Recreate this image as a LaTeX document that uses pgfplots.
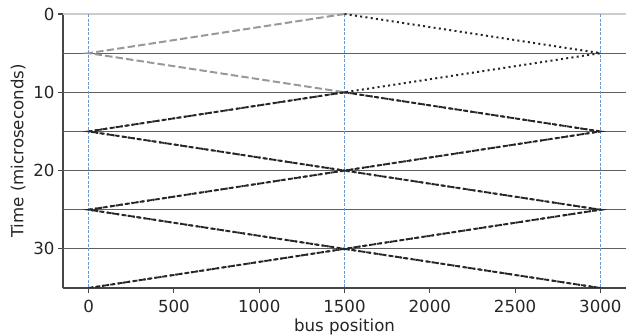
\documentclass[border=0pt]{standalone}
\usepackage{fontspec}
\setmainfont{DejaVu Sans}
\usepackage{pgfplots}
\pgfplotsset{compat=1.18}
\definecolor{vblue}{RGB}{110,155,205}
\definecolor{hgray}{RGB}{95,95,95}
\definecolor{spine}{RGB}{70,70,70}
\begin{document}
\begin{tikzpicture}
\begin{axis}[
  scale only axis, width=563bp, height=274bp,
  xmin=-150, xmax=3150, ymin=0, ymax=35, y dir=reverse,
  axis x line*=bottom, axis y line*=left,
  axis line style={draw=spine, line width=1.2bp},
  xtick={0,500,1000,1500,2000,2500,3000}, ytick={0,10,20,30},
  tick style={draw=spine, line width=1.2bp},
  tick align=outside, major tick length=4.9bp,
  ticklabel style={font=\fontsize{16.7}{19}\selectfont, text=black!85},
  label style={font=\fontsize{16.7}{19}\selectfont, text=black!85},
  xticklabel style={yshift=-4bp},
  /pgf/number format/assume math mode=true,
  /pgf/number format/1000 sep={},
  scaled ticks=false,
  xlabel={bus position}, ylabel={Time (microseconds)},
  xlabel style={yshift=1bp}, ylabel style={yshift=1bp},
]
\coordinate (TL) at (axis cs:-150,0);
% horizontal reference lines
\addplot[draw=black!20, line width=1.2bp, forget plot] coordinates {(-150,0) (3150,0)};
\addplot[draw=hgray, line width=1.2bp, forget plot] coordinates {(-150,5) (3150,5)};
\addplot[draw=hgray, line width=1.2bp, forget plot] coordinates {(-150,10) (3150,10)};
\addplot[draw=hgray, line width=1.2bp, forget plot] coordinates {(-150,15) (3150,15)};
\addplot[draw=hgray, line width=1.2bp, forget plot] coordinates {(-150,20) (3150,20)};
\addplot[draw=hgray, line width=1.2bp, forget plot] coordinates {(-150,25) (3150,25)};
\addplot[draw=hgray, line width=1.2bp, forget plot] coordinates {(-150,30) (3150,30)};
% vertical dashed lines
\addplot[draw=vblue, line width=1bp, dash pattern=on 3bp off 1.5bp] coordinates {(0,0) (0,35)};
\addplot[draw=vblue, line width=1bp, dash pattern=on 3bp off 1.5bp] coordinates {(1500,0) (1500,35)};
\addplot[draw=vblue, line width=1bp, dash pattern=on 3bp off 1.5bp] coordinates {(3000,0) (3000,35)};
% gray dashed (left-going first reflection)
\addplot[draw=black!40, line width=2bp, dash pattern=on 7.4bp off 3.2bp] coordinates {(1500,0) (0,5) (1500,10)};
% black dashed after t=10
\addplot[draw=black!85, line width=1.8bp, dash pattern=on 5bp off 2.5bp] coordinates {(1500,10) (3000,15) (1500,20) (0,25) (1500,30) (3000,35)};
\addplot[draw=black!85, line width=1.8bp, dash pattern=on 5bp off 2.5bp] coordinates {(1500,10) (0,15) (1500,20) (3000,25) (1500,30) (0,35)};
% black dotted
\addplot[draw=black!85, line width=2bp, dash pattern=on 2bp off 3.3bp] coordinates {(1500,0) (3000,5) (1500,10) (0,15) (1500,20) (3000,25) (1500,30) (0,35)};
\addplot[draw=black!85, line width=2bp, dash pattern=on 2bp off 3.3bp] coordinates {(1500,10) (3000,15) (1500,20) (0,25) (1500,30) (3000,35)};
\end{axis}
\pgfresetboundingbox
\path (TL) ++(-63bp,14bp) rectangle ++(626bp,-335bp);
\end{tikzpicture}
\end{document}
